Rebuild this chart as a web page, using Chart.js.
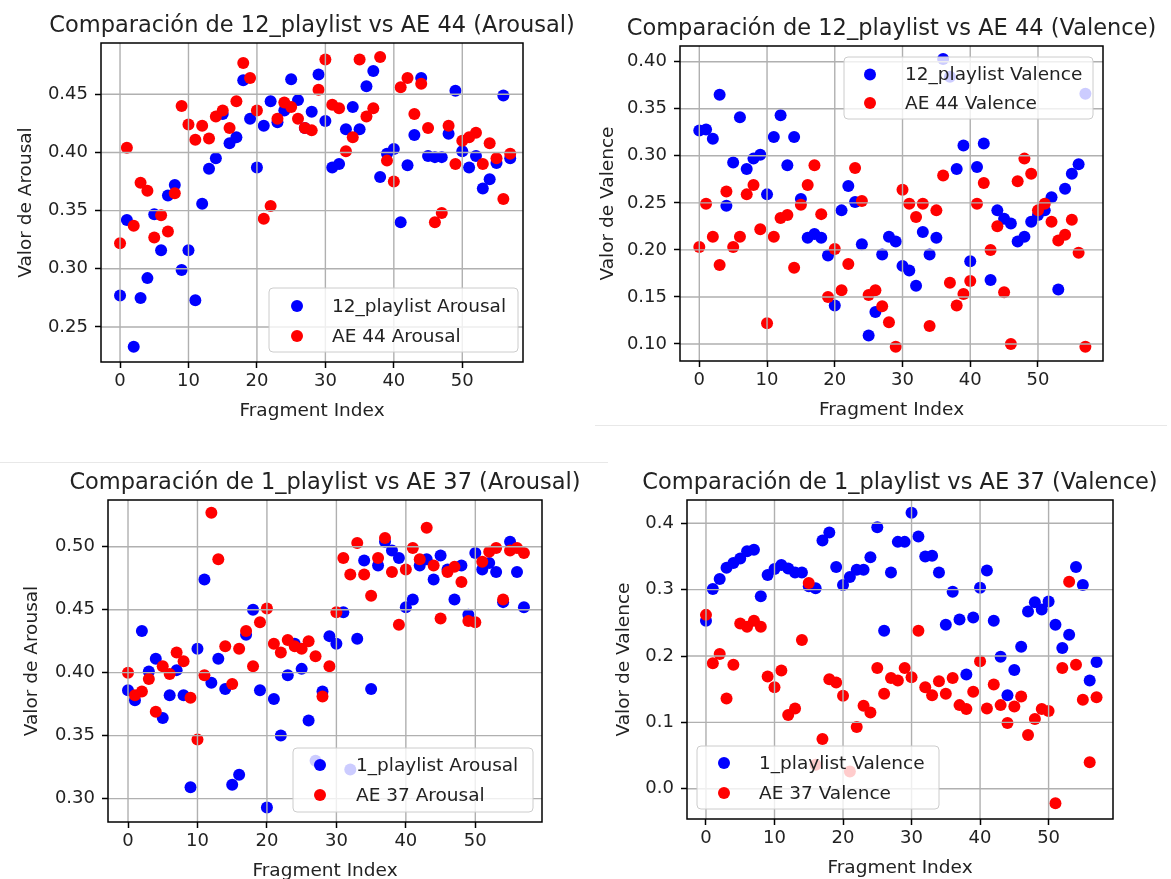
<!DOCTYPE html>
<html>
<head>
<meta charset="utf-8">
<script src="https://cdn.jsdelivr.net/npm/chart.js@4.4.1/dist/chart.umd.min.js"></script>
<style>
  body { margin: 0; background: #fff; width: 1171px; height: 879px; overflow: hidden; position: relative; }
  canvas { position: absolute; }
  .sep { position: absolute; height: 1px; background: #e8e8e8; }
</style>
</head>
<body>
<div class="sep" style="left:595px; top:425px; width:572px;"></div>
<div class="sep" style="left:0; top:462px; width:608px;"></div>
<canvas id="c1" width="590" height="440" style="left:0; top:0;"></canvas>
<canvas id="c2" width="581" height="440" style="left:590px; top:0;"></canvas>
<canvas id="c3" width="600" height="439" style="left:0; top:440px;"></canvas>
<canvas id="c4" width="571" height="439" style="left:600px; top:440px;"></canvas>
<script>
// fragment index shared by every panel
const fragmentIndex = [0, 1, 2, 3, 4, 5, 6, 7, 8, 9, 10, 11, 12, 13, 14, 15, 16, 17, 18, 19,
  20, 21, 22, 23, 24, 25, 26, 27, 28, 29, 30, 31, 32, 33, 34, 35, 36, 37, 38, 39,
  40, 41, 42, 43, 44, 45, 46, 47, 48, 49, 50, 51, 52, 53, 54, 55, 56, 57];
const xTicks = [0, 10, 20, 30, 40, 50];

// 12_playlist vs AE 44
const arousal12 = [0.277, 0.342, 0.233, 0.275, 0.292, 0.347, 0.316, 0.363, 0.372, 0.299,
  0.316, 0.273, 0.356, 0.386, 0.395, 0.433, 0.408, 0.413, 0.462, 0.429,
  0.387, 0.423, 0.444, 0.426, 0.436, 0.463, 0.445, 0.421, 0.435, 0.467,
  0.427, 0.387, 0.390, 0.420, 0.439, 0.420, 0.457, 0.470, 0.379, 0.399,
  0.403, 0.340, 0.389, 0.415, 0.464, 0.397, 0.396, 0.396, 0.416, 0.453,
  0.401, 0.387, 0.397, 0.369, 0.377, 0.391, 0.449, 0.395];
const arousalAE44 = [0.322, 0.404, 0.337, 0.374, 0.367, 0.327, 0.346, 0.332, 0.365, 0.440,
  0.424, 0.411, 0.423, 0.412, 0.431, 0.436, 0.421, 0.444, 0.477, 0.464,
  0.436, 0.343, 0.354, 0.429, 0.443, 0.439, 0.429, 0.421, 0.419, 0.454,
  0.480, 0.441, 0.438, 0.401, 0.413, 0.480, 0.431, 0.438, 0.482, 0.393,
  0.375, 0.456, 0.464, 0.433, 0.459, 0.421, 0.340, 0.348, 0.423, 0.390,
  0.410, 0.413, 0.417, 0.390, 0.408, 0.395, 0.360, 0.399];
const valence12 = [0.327, 0.328, 0.318, 0.365, 0.247, 0.293, 0.341, 0.286, 0.297, 0.301,
  0.259, 0.320, 0.343, 0.290, 0.320, 0.254, 0.213, 0.217, 0.213, 0.194,
  0.141, 0.242, 0.268, 0.251, 0.206, 0.109, 0.134, 0.195, 0.214, 0.209,
  0.183, 0.178, 0.162, 0.219, 0.195, 0.213, 0.403, 0.384, 0.286, 0.311,
  0.188, 0.288, 0.313, 0.168, 0.242, 0.233, 0.228, 0.209, 0.214, 0.230,
  0.237, 0.242, 0.256, 0.158, 0.265, 0.281, 0.291, 0.366];
const valenceAE44 = [0.203, 0.249, 0.214, 0.184, 0.262, 0.203, 0.214, 0.259, 0.269, 0.222,
  0.122, 0.214, 0.234, 0.237, 0.181, 0.248, 0.269, 0.290, 0.238, 0.150,
  0.201, 0.157, 0.185, 0.287, 0.252, 0.152, 0.157, 0.140, 0.123, 0.097,
  0.264, 0.249, 0.235, 0.249, 0.119, 0.242, 0.279, 0.165, 0.141, 0.153,
  0.167, 0.249, 0.271, 0.200, 0.225, 0.155, 0.100, 0.273, 0.297, 0.281,
  0.242, 0.249, 0.230, 0.210, 0.216, 0.232, 0.197, 0.097];

// 1_playlist vs AE 37
const arousal1 = [0.386, 0.378, 0.433, 0.401, 0.411, 0.364, 0.382, 0.402, 0.382, 0.309,
  0.419, 0.474, 0.392, 0.411, 0.387, 0.311, 0.319, 0.430, 0.450, 0.386,
  0.293, 0.379, 0.350, 0.398, 0.423, 0.403, 0.362, 0.330, 0.385, 0.429,
  0.423, 0.448, 0.323, 0.427, 0.489, 0.387, 0.485, 0.504, 0.497, 0.491,
  0.452, 0.458, 0.485, 0.490, 0.474, 0.493, 0.482, 0.458, 0.485, 0.446,
  0.495, 0.482, 0.487, 0.480, 0.456, 0.504, 0.480, 0.452];
const arousalAE37 = [0.400, 0.382, 0.385, 0.395, 0.369, 0.405, 0.399, 0.416, 0.409, 0.380,
  0.347, 0.398, 0.527, 0.490, 0.421, 0.391, 0.419, 0.433, 0.405, 0.440,
  0.451, 0.423, 0.416, 0.426, 0.421, 0.419, 0.425, 0.413, 0.381, 0.405,
  0.448, 0.491, 0.478, 0.503, 0.478, 0.461, 0.491, 0.507, 0.480, 0.438,
  0.482, 0.499, 0.490, 0.515, 0.485, 0.443, 0.480, 0.484, 0.472, 0.441,
  0.440, 0.488, 0.496, 0.499, 0.458, 0.497, 0.499, 0.495];
const valence1 = [0.253, 0.301, 0.316, 0.333, 0.340, 0.347, 0.358, 0.360, 0.290, 0.322,
  0.331, 0.337, 0.332, 0.326, 0.326, 0.305, 0.302, 0.374, 0.386, 0.334,
  0.307, 0.319, 0.330, 0.330, 0.349, 0.394, 0.238, 0.326, 0.372, 0.372,
  0.416, 0.380, 0.350, 0.351, 0.326, 0.247, 0.297, 0.255, 0.172, 0.258,
  0.303, 0.329, 0.253, 0.199, 0.141, 0.179, 0.214, 0.267, 0.281, 0.270,
  0.282, 0.247, 0.212, 0.232, 0.334, 0.307, 0.163, 0.191];
const valenceAE37 = [0.262, 0.189, 0.203, 0.136, 0.187, 0.249, 0.244, 0.253, 0.244, 0.169,
  0.153, 0.178, 0.111, 0.121, 0.224, 0.310, 0.036, 0.075, 0.165, 0.160,
  0.140, 0.026, 0.093, 0.125, 0.115, 0.182, 0.143, 0.167, 0.163, 0.182,
  0.168, 0.238, 0.153, 0.141, 0.162, 0.143, 0.167, 0.126, 0.120, 0.146,
  0.192, 0.121, 0.157, 0.126, 0.099, 0.124, 0.139, 0.081, 0.105, 0.120,
  0.117, -0.022, 0.182, 0.312, 0.187, 0.134, 0.040, 0.138];

const yTicksArousal12 = [0.25, 0.30, 0.35, 0.40, 0.45];
const yTicksValence12 = [0.10, 0.15, 0.20, 0.25, 0.30, 0.35, 0.40];
const yTicksArousal1 = [0.30, 0.35, 0.40, 0.45, 0.50];
const yTicksValence1 = [0.0, 0.1, 0.2, 0.3, 0.4];

const FONT = '"DejaVu Sans", sans-serif';
const TEXT = '#222';
const BLUE = '#0000ff';
const RED = '#ff0000';
const Y_AXIS_W = 70;
const X_AXIS_H = 30;

const panelDecor = {
  id: 'panelDecor',
  afterDatasetsDraw(chart, args, o) {
    const { ctx, chartArea: a, scales } = chart;
    const cx = (a.left + a.right) / 2;
    ctx.save();

    // matplotlib draws its grid above scatter points
    ctx.strokeStyle = '#b0b0b0';
    ctx.lineWidth = 1.4;
    ctx.beginPath();
    scales.x.ticks.forEach(t => {
      const px = scales.x.getPixelForValue(t.value);
      ctx.moveTo(px, a.top); ctx.lineTo(px, a.bottom);
    });
    scales.y.ticks.forEach(t => {
      const py = scales.y.getPixelForValue(t.value);
      ctx.moveTo(a.left, py); ctx.lineTo(a.right, py);
    });
    ctx.stroke();

    ctx.strokeStyle = '#000';
    ctx.lineWidth = 1.5;
    ctx.strokeRect(a.left, a.top, a.right - a.left, a.bottom - a.top);

    // legend box
    const lg = o.legend;
    ctx.beginPath();
    ctx.roundRect(lg.x, lg.y, lg.w, lg.h, 4);
    ctx.fillStyle = 'rgba(255,255,255,0.8)';
    ctx.fill();
    ctx.strokeStyle = '#cccccc';
    ctx.lineWidth = 1;
    ctx.stroke();
    ctx.font = '18.5px ' + FONT;
    ctx.textAlign = 'left';
    ctx.textBaseline = 'middle';
    chart.data.datasets.forEach((ds, k) => {
      const my = lg.y + lg.rows[k];
      ctx.beginPath();
      ctx.arc(lg.x + lg.mx, my, 6, 0, Math.PI * 2);
      ctx.fillStyle = ds.backgroundColor;
      ctx.fill();
      ctx.fillStyle = TEXT;
      ctx.fillText(ds.label, lg.x + lg.tx, my + 1);
    });

    // titles
    ctx.fillStyle = TEXT;
    ctx.textAlign = 'center';
    ctx.textBaseline = 'alphabetic';
    ctx.font = '22.5px ' + FONT;
    ctx.fillText(o.title, cx, a.top - 11);
    ctx.font = '18.5px ' + FONT;
    ctx.fillText('Fragment Index', cx, a.bottom + 54);
    ctx.translate(a.left - o.yLabelGap, (a.top + a.bottom) / 2);
    ctx.rotate(-Math.PI / 2);
    ctx.fillText(o.yLabel, 0, 0);
    ctx.restore();
  }
};

const panels = [
  { id: 'c1', box: { x: 0, y: 0, w: 590, h: 440 }, area: { l: 101, t: 43, r: 523, b: 362 },
    xRange: [-2.78, 58.87], yRange: [0.2199, 0.4941], yTicks: yTicksArousal12, dec: 2,
    title: 'Comparación de 12_playlist vs AE 44 (Arousal)', yLabel: 'Valor de Arousal', yLabelGap: 70,
    series: [['12_playlist Arousal', arousal12], ['AE 44 Arousal', arousalAE44]],
    legend: { x: 269, y: 288, w: 249, h: 64, mx: 28, tx: 63, rows: [18, 48] } },
  { id: 'c2', box: { x: 590, y: 0, w: 581, h: 440 }, area: { l: 680, t: 46, r: 1103, b: 361 },
    xRange: [-2.85, 59.6], yRange: [0.0819, 0.4167], yTicks: yTicksValence12, dec: 2,
    title: 'Comparación de 12_playlist vs AE 44 (Valence)', yLabel: 'Valor de Valence', yLabelGap: 67,
    series: [['12_playlist Valence', valence12], ['AE 44 Valence', valenceAE44]],
    legend: { x: 844, y: 57, w: 249, h: 62, mx: 26, tx: 61, rows: [17.5, 46] } },
  { id: 'c3', box: { x: 0, y: 440, w: 600, h: 439 }, area: { l: 108, t: 500, r: 542, b: 822 },
    xRange: [-2.88, 59.6], yRange: [0.2814, 0.5371], yTicks: yTicksArousal1, dec: 2,
    title: 'Comparación de 1_playlist vs AE 37 (Arousal)', yLabel: 'Valor de Arousal', yLabelGap: 71,
    series: [['1_playlist Arousal', arousal1], ['AE 37 Arousal', arousalAE37]],
    legend: { x: 293, y: 748, w: 240, h: 64, mx: 27, tx: 63, rows: [17, 47] } },
  { id: 'c4', box: { x: 600, y: 440, w: 571, h: 439 }, area: { l: 687, t: 500, r: 1113, b: 819 },
    xRange: [-2.77, 59.4], yRange: [-0.0456, 0.4351], yTicks: yTicksValence1, dec: 1,
    title: 'Comparación de 1_playlist vs AE 37 (Valence)', yLabel: 'Valor de Valence', yLabelGap: 58,
    series: [['1_playlist Valence', valence1], ['AE 37 Valence', valenceAE37]],
    legend: { x: 697, y: 746, w: 242, h: 63, mx: 27, tx: 62, rows: [17, 47] } }
];

const colors = [BLUE, RED];

panels.forEach(p => {
  const tickFont = { family: FONT, size: 18 };
  const grid = { drawOnChartArea: false, drawTicks: true, tickLength: 6, tickColor: '#000', tickWidth: 1.5 };
  new Chart(document.getElementById(p.id), {
    type: 'scatter',
    data: {
      datasets: p.series.map(([label, values], k) => ({
        label,
        data: fragmentIndex.map((x, i) => ({ x, y: values[i] })),
        backgroundColor: colors[k],
        borderColor: colors[k],
        borderWidth: 0,
        pointRadius: 6,
        order: 2 - k
      }))
    },
    options: {
      responsive: false,
      animation: false,
      events: [],
      devicePixelRatio: 1,
      layout: {
        padding: {
          left: p.area.l - p.box.x - Y_AXIS_W,
          top: p.area.t - p.box.y,
          right: p.box.x + p.box.w - p.area.r,
          bottom: p.box.y + p.box.h - p.area.b - X_AXIS_H
        }
      },
      scales: {
        x: {
          type: 'linear',
          min: p.xRange[0], max: p.xRange[1],
          afterBuildTicks: s => { s.ticks = xTicks.map(v => ({ value: v })); },
          afterFit: s => { s.height = X_AXIS_H; },
          ticks: { font: tickFont, color: TEXT, padding: 3, maxRotation: 0, autoSkip: false,
                   callback: v => String(v) },
          grid, border: { display: false }
        },
        y: {
          type: 'linear',
          min: p.yRange[0], max: p.yRange[1],
          afterBuildTicks: s => { s.ticks = p.yTicks.map(v => ({ value: v })); },
          afterFit: s => { s.width = Y_AXIS_W; },
          ticks: { font: tickFont, color: TEXT, padding: 7, autoSkip: false,
                   callback: v => v.toFixed(p.dec) },
          grid, border: { display: false }
        }
      },
      plugins: {
        legend: { display: false },
        tooltip: { enabled: false },
        panelDecor: {
          title: p.title,
          yLabel: p.yLabel,
          yLabelGap: p.yLabelGap,
          legend: Object.assign({}, p.legend, { x: p.legend.x - p.box.x, y: p.legend.y - p.box.y })
        }
      }
    },
    plugins: [panelDecor]
  });
});
</script>
</body>
</html>
